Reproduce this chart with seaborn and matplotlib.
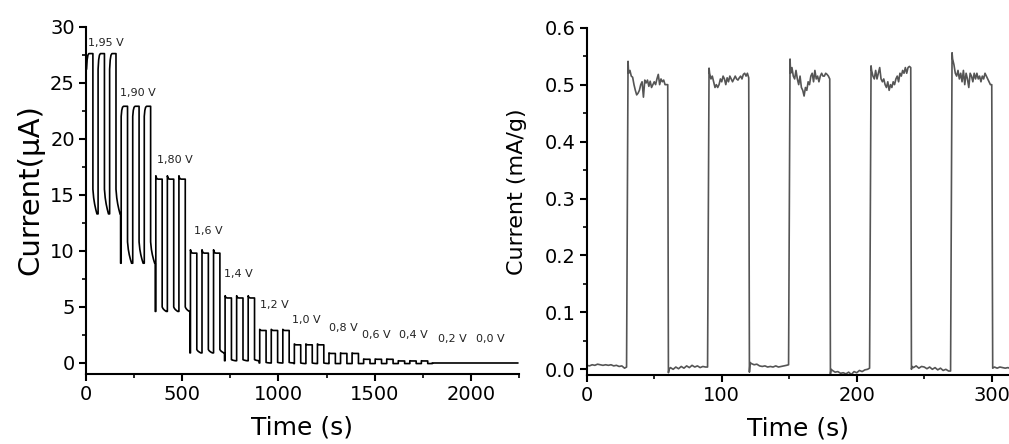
import numpy as np
import pandas as pd
import matplotlib
matplotlib.use("Agg")
import matplotlib.pyplot as plt
import seaborn as sns
from matplotlib.ticker import MultipleLocator

# ---------------- Left panel: photocurrent at different bias voltages ----------------
voltage_labels = ["1,95 V", "1,90 V", "1,80 V", "1,6 V", "1,4 V", "1,2 V",
                  "1,0 V", "0,8 V", "0,6 V", "0,4 V", "0,2 V", "0,0 V"]
label_time = [12, 177, 367, 561, 717, 903, 1073, 1263, 1434, 1627, 1829, 2028]
label_current = [28.5, 24.1, 18.1, 11.8, 7.9, 5.2, 3.85, 3.1, 2.5, 2.5, 2.15, 2.15]
# current levels (uA) read for each voltage step
on_first = [26.2, 22.0, 16.7, 10.1, 6.0, 3.0, 1.70, 0.90, 0.36, 0.20, 0.0, 0.0]
on_plateau = [27.6, 22.9, 16.4, 9.8, 5.8, 2.9, 1.62, 0.85, 0.33, 0.18, 0.0, 0.0]
off_first = [15.5, 10.8, 5.0, 1.2, 0.30, 0.05, 0.0, -0.05, -0.05, -0.05, 0.0, 0.0]
off_last = [13.3, 8.9, 4.6, 0.9, 0.20, 0.0, -0.05, -0.05, -0.05, -0.05, 0.0, 0.0]
step_start = [0, 180, 360, 540, 720, 900, 1080, 1260, 1440, 1620, 1800, 1980]
end_time = 2245
cycle_rise = [3, 63, 123]          # light-on instants within a step (s)
on_length = 33                      # light-on duration (s)
rise_shape_t = [0, 3, 7, 12]
rise_shape_f = [0, 0.6, 0.9, 1.0]
decay_shape_t = [0, 4, 9, 15, 21]
decay_shape_f = [0, 0.35, 0.6, 0.82, 1.0]

t_left, i_left = [], []
prev = None
for k in range(10):
    s = step_start[k]
    for j, r in enumerate(cycle_rise):
        tr = s + r
        if prev is None:
            pass
        elif j == 0:
            t_left += [tr - 3, tr - 3]
            i_left += [prev, off_last[k]]
            t_left.append(tr)
            i_left.append(off_last[k])
        else:
            t_left.append(tr)
            i_left.append(prev)
        for dt, f in zip(rise_shape_t, rise_shape_f):
            t_left.append(tr + dt)
            i_left.append(on_first[k] + f * (on_plateau[k] - on_first[k]))
        tf = tr + on_length
        t_left.append(tf)
        i_left.append(on_plateau[k])
        for dt, f in zip(decay_shape_t, decay_shape_f):
            t_left.append(tf + dt)
            i_left.append(off_first[k] + f * (off_last[k] - off_first[k]))
        prev = off_last[k]
t_left += [step_start[10], step_start[10], end_time]
i_left += [prev, 0.0, 0.0]
left_df = pd.DataFrame({"Time (s)": t_left, "Current": i_left})

# ---------------- Right panel: on/off response ----------------
off_times = [
    [0, 2, 4, 6, 8, 10, 12, 14, 16, 18, 20, 22, 24, 26, 28, 29.5],
    [60.5, 61, 62, 64, 66, 68, 70, 72, 74, 76, 78, 80, 82, 84, 86, 88, 89.5],
    [120.5, 121, 122, 124, 126, 128, 130, 132, 134, 136, 138, 140, 142, 144, 146, 148, 149.5],
    [180.5, 181, 182, 184, 186, 188, 190, 192, 194, 196, 198, 200, 202, 204, 206, 208, 209.5],
    [240.5, 241, 242, 244, 246, 248, 250, 252, 254, 256, 258, 260, 262, 264, 266, 268, 269.5],
    [300.7, 302, 304, 306, 308, 310, 312, 313],
]
off_values = [
    [0.007, 0.006, 0.008, 0.007, 0.009, 0.008, 0.007, 0.008, 0.007, 0.008, 0.006, 0.007, 0.005, 0.006, 0.002, 0.004],
    [-0.006, 0.0, 0.003, 0.0, 0.004, 0.001, 0.005, 0.002, 0.006, 0.003, 0.007, 0.004, 0.006, 0.003, 0.005, 0.004, 0.004],
    [-0.005, 0.012, 0.010, 0.008, 0.009, 0.006, 0.005, 0.006, 0.004, 0.005, 0.004, 0.006, 0.004, 0.005, 0.006, 0.007, 0.008],
    [-0.008, 0.0, -0.002, -0.005, -0.004, -0.007, -0.006, -0.008, -0.005, -0.009, -0.004, -0.006, -0.002, -0.004, -0.001, 0.0, 0.002],
    [0.0, 0.005, 0.003, 0.006, 0.002, 0.005, 0.004, 0.001, 0.004, 0.0, 0.003, -0.001, 0.002, -0.002, 0.0, -0.003, -0.003],
    [0.002, 0.004, 0.002, 0.004, 0.003, 0.002, 0.003, 0.002],
]
on_start = [30, 90, 150, 210, 270]
on_offsets = [0.6] + list(range(1, 31))
on_values = [
    [0.541, 0.52, 0.525, 0.515, 0.513, 0.50, 0.49, 0.482, 0.485, 0.49, 0.50, 0.505, 0.478, 0.508, 0.503, 0.508,
     0.497, 0.506, 0.495, 0.50, 0.505, 0.50, 0.51, 0.518, 0.50, 0.51, 0.505, 0.508, 0.50, 0.50, 0.50],
    [0.529, 0.52, 0.51, 0.515, 0.505, 0.495, 0.50, 0.495, 0.50, 0.51, 0.505, 0.515, 0.51, 0.50, 0.512, 0.505,
     0.515, 0.51, 0.505, 0.51, 0.515, 0.51, 0.508, 0.512, 0.515, 0.51, 0.518, 0.52, 0.515, 0.52, 0.512],
    [0.545, 0.52, 0.53, 0.515, 0.51, 0.525, 0.51, 0.50, 0.515, 0.495, 0.49, 0.48, 0.495, 0.49, 0.505, 0.50,
     0.515, 0.52, 0.505, 0.525, 0.51, 0.515, 0.505, 0.515, 0.52, 0.515, 0.515, 0.52, 0.518, 0.515, 0.51],
    [0.533, 0.525, 0.515, 0.51, 0.525, 0.51, 0.52, 0.53, 0.51, 0.505, 0.51, 0.50, 0.495, 0.505, 0.49, 0.50,
     0.495, 0.505, 0.50, 0.51, 0.515, 0.505, 0.52, 0.515, 0.525, 0.52, 0.53, 0.52, 0.53, 0.532, 0.53],
    [0.556, 0.545, 0.535, 0.52, 0.515, 0.525, 0.51, 0.52, 0.505, 0.525, 0.50, 0.52, 0.51, 0.495, 0.52, 0.515,
     0.505, 0.52, 0.51, 0.52, 0.51, 0.515, 0.505, 0.515, 0.51, 0.52, 0.515, 0.51, 0.505, 0.50, 0.50],
]
t_right, i_right = [], []
for p in range(5):
    t_right += off_times[p]
    i_right += off_values[p]
    t_right += [on_start[p] + o for o in on_offsets]
    i_right += on_values[p]
t_right += off_times[5]
i_right += off_values[5]
right_df = pd.DataFrame({"Time (s)": t_right, "Current": i_right})

# ---------------- Figure ----------------
sns.set_theme(style="ticks")
plt.rcParams["font.family"] = ["DejaVu Sans"]
plt.rcParams["axes.linewidth"] = 1.5

fig = plt.figure(figsize=(10.09, 4.44), dpi=100)
ax1 = fig.add_axes([0.0852, 0.1572, 0.4291, 0.7827])
ax2 = fig.add_axes([0.5815, 0.1554, 0.4188, 0.7822])

sns.lineplot(data=left_df, x="Time (s)", y="Current", ax=ax1, estimator=None,
             sort=False, color="black", linewidth=1.2)
sns.lineplot(data=right_df, x="Time (s)", y="Current", ax=ax2, estimator=None,
             sort=False, color="#555555", linewidth=1.2)

for lab, tx, ty in zip(voltage_labels, label_time, label_current):
    ax1.text(tx, ty, lab, fontsize=8, color="#222222", ha="left", va="center")

ax1.set_xlim(0, 2250)
ax1.set_ylim(-1, 30)
ax1.xaxis.set_major_locator(MultipleLocator(500))
ax1.xaxis.set_minor_locator(MultipleLocator(250))
ax1.yaxis.set_major_locator(MultipleLocator(5))
ax1.yaxis.set_minor_locator(MultipleLocator(2.5))
ax1.set_xlabel("Time (s)", fontsize=18, labelpad=8, color="black")
ax1.set_ylabel("Current(μA)", fontsize=21, color="black")
ax1.yaxis.set_label_coords(-0.097, 0.53)

ax2.set_xlim(0, 313)
ax2.set_ylim(-0.01, 0.6)
ax2.xaxis.set_major_locator(MultipleLocator(100))
ax2.xaxis.set_minor_locator(MultipleLocator(50))
ax2.yaxis.set_major_locator(MultipleLocator(0.1))
ax2.yaxis.set_minor_locator(MultipleLocator(0.05))
ax2.yaxis.set_major_formatter(matplotlib.ticker.FormatStrFormatter("%.1f"))
ax2.set_xlabel("Time (s)", fontsize=18, labelpad=8, color="black")
ax2.set_ylabel("Current (mA/g)", fontsize=16, color="black")
ax2.yaxis.set_label_coords(-0.141, 0.527)

for ax in (ax1, ax2):
    sns.despine(ax=ax)
    for sp in ("left", "bottom"):
        ax.spines[sp].set_color("black")
    ax.tick_params(which="major", direction="out", length=5, width=1.5,
                   labelsize=14, colors="black", pad=3)
    ax.tick_params(which="minor", direction="out", length=3, width=1.2, colors="black")
    ax.set_facecolor("white")

fig.savefig("out.png", dpi=100, facecolor="white")
